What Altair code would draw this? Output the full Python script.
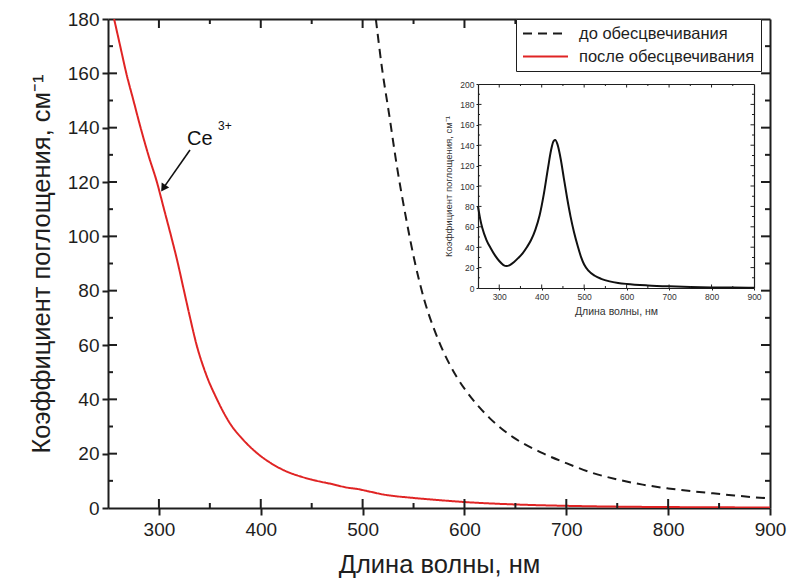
import altair as alt
import pandas as pd

# Absorption before bleaching (dashed curve)
wl_before = [513, 519, 526, 534, 542, 551, 561, 570, 580, 592, 608, 625, 648, 675,
             700, 725, 750, 775, 800, 825, 844, 865, 883, 900]
k_before = [180, 162, 145, 125, 108, 91, 76, 66, 57, 48.5, 40, 33, 26, 20.5,
            16.5, 13, 10.5, 8.6, 7.2, 6.1, 5.4, 4.6, 4.0, 3.5]

# Absorption after bleaching (red curve)
wl_after = [256, 262, 268, 275, 282, 290, 298, 305, 312, 318, 324, 330, 337, 346,
            357, 370, 383, 397, 410, 425, 440, 455, 470, 485, 495, 505, 520, 550,
            575, 600, 650, 700, 750, 800, 850, 900]
k_after = [180, 170, 160, 150, 140, 129.5, 120, 110, 100, 91, 81, 71, 60, 49.5,
           40, 31, 25, 20, 16.5, 13.5, 11.5, 10, 8.8, 7.5, 7.0, 6.2, 5.0, 3.7,
           2.9, 2.2, 1.3, 0.8, 0.5, 0.35, 0.25, 0.2]

# Difference spectrum shown in the inset
wl_inset = [250, 255, 260, 270, 280, 290, 300, 310, 317, 325, 335, 345, 355, 365,
            375, 385, 395, 405, 415, 422, 428, 432, 437, 445, 452, 460, 468, 476,
            485, 493, 500, 510, 525, 540, 560, 580, 600, 650, 700, 750, 800, 850, 900]
k_inset = [80, 68, 59, 47, 39, 32, 26.5, 22.5, 21.5, 22.5, 25.5, 29.5, 34, 40,
           47, 57, 71, 92, 118, 135, 144, 145, 141, 126, 108, 88, 70, 55,
           41, 30, 23, 17, 12, 9, 6.5, 5, 4, 2.5, 1.6, 1.0, 0.6, 0.4, 0.3]

series_names = ["до обесцвечивания", "после обесцвечивания"]

main_x_labels = [300, 400, 500, 600, 700, 800, 900]
main_x_major = [300, 400, 500, 600, 700, 800]
main_x_minor = [350, 450, 550, 650, 750, 850]
main_y_labels = [0, 20, 40, 60, 80, 100, 120, 140, 160, 180]
main_y_major = [20, 40, 60, 80, 100, 120, 140, 160]
main_y_minor = [10, 30, 50, 70, 90, 110, 130, 150, 170]
inset_x_labels = [300, 400, 500, 600, 700, 800, 900]
inset_x_major = [300, 400, 500, 600, 700, 800]
inset_x_minor = [350, 450, 550, 650, 750, 850]
inset_y_labels = [0, 20, 40, 60, 80, 100, 120, 140, 160, 180, 200]
inset_y_major = [20, 40, 60, 80, 100, 120, 140, 160, 180]
inset_y_minor = [10, 30, 50, 70, 90, 110, 130, 150, 170, 190]

# Ce3+ annotation: label anchors and arrow (wavelength, coefficient)
ce_label_pos = [327.6, 133.6]
ce_sup_pos = [358.0, 139.0]
arrow_wl = [330.5, 305.0]
arrow_k = [131.8, 118.1]

FONT = "Liberation Sans"
INK = "#1e1e1e"
W, H = 662, 489
# inset frame edges inside the main plot area (pixels)
IX0, IX1, IY0, IY1 = 370, 646, 269, 65

main_df = pd.concat([
    pd.DataFrame({"wl": wl_before, "k": k_before, "series": series_names[0]}),
    pd.DataFrame({"wl": wl_after, "k": k_after, "series": series_names[1]}),
])
inset_df = pd.DataFrame({"wl": wl_inset, "k": k_inset})


def sx():
    return alt.Scale(domain=[250, 900], nice=False, zero=False)


def sy():
    return alt.Scale(domain=[0, 180], nice=False, zero=False)


def isx():
    return alt.Scale(domain=[250, 900], range=[IX0, IX1], nice=False, zero=False)


def isy():
    return alt.Scale(domain=[0, 200], range=[IY0, IY1], nice=False, zero=False)


def frame_axis(orient, offset, width):
    return alt.Axis(orient=orient, offset=offset, labels=False, ticks=False,
                    title=None, grid=False, domain=True, domainWidth=width,
                    domainColor=INK)


def frame_layer(df, xs, ys, x_axis, y_axis):
    """Invisible layer contributing only the top and right frame lines."""
    return alt.Chart(df).mark_point(opacity=0).encode(
        x=alt.X("wl:Q", scale=xs, axis=x_axis),
        y=alt.Y("k:Q", scale=ys, axis=y_axis),
    )


def x_ticks(values, edge, xs, ys, length, width, shift):
    """Vertical tick marks at the given wavelengths along the edge y = edge."""
    df = pd.DataFrame({"wl": values, "k": [edge] * len(values)})
    return alt.Chart(df).mark_tick(
        orient="vertical", color=INK, thickness=width, size=length,
        yOffset=shift, opacity=1).encode(
        x=alt.X("wl:Q", scale=xs, axis=None),
        y=alt.Y("k:Q", scale=ys, axis=None))


def y_ticks(values, edge, xs, ys, length, width, shift):
    """Horizontal tick marks at the given coefficients along the edge x = edge."""
    df = pd.DataFrame({"wl": [edge] * len(values), "k": values})
    return alt.Chart(df).mark_tick(
        orient="horizontal", color=INK, thickness=width, size=length,
        xOffset=shift, opacity=1).encode(
        x=alt.X("wl:Q", scale=xs, axis=None),
        y=alt.Y("k:Q", scale=ys, axis=None))


# Main curves with labelled bottom and left axes
lines = alt.Chart(main_df).mark_line(clip=True, strokeWidth=2, interpolate="monotone").encode(
    x=alt.X("wl:Q", scale=sx(), axis=alt.Axis(
        orient="bottom", values=main_x_labels, ticks=True, tickSize=7,
        tickWidth=2, tickColor=INK,
        domain=True, domainWidth=2, domainColor=INK, labelFontSize=19,
        labelPadding=5, labelFlush=False, labelOverlap=False,
        title="Длина волны, нм", titleFontSize=25.5, titlePadding=13, grid=False)),
    y=alt.Y("k:Q", scale=sy(), axis=alt.Axis(
        orient="left", values=main_y_labels, ticks=True, tickSize=6,
        tickWidth=2, tickColor=INK,
        domain=True, domainWidth=2, domainColor=INK, labelFontSize=19,
        labelPadding=3, labelFlush=False, labelOverlap=False,
        title="Коэффициент поглощения, см⁻¹", titleFontSize=25.5,
        titlePadding=13, grid=False)),
    color=alt.Color("series:N", scale=alt.Scale(domain=series_names,
                                                  range=["#1a1a1a", "#e02424"]),
                    legend=alt.Legend(title=None)),
    strokeDash=alt.StrokeDash("series:N", scale=alt.Scale(domain=series_names,
                                                           range=[[9, 6], [1, 0]]),
                              legend=alt.Legend(title=None)),
)

# Top and right edges of the main frame, inward ticks on all four sides
main_guides = [
    frame_layer(main_df, sx(), sy(), frame_axis("bottom", -H, 2), frame_axis("left", -W, 2)),
    x_ticks(main_x_major, 0, sx(), sy(), 9, 2, -4.5),
    x_ticks(main_x_minor, 0, sx(), sy(), 5, 2, -2.5),
    x_ticks(main_x_major, 180, sx(), sy(), 9, 2, 4.5),
    x_ticks(main_x_minor, 180, sx(), sy(), 5, 2, 2.5),
    y_ticks(main_y_major, 250, sx(), sy(), 9, 2, 4.5),
    y_ticks(main_y_minor, 250, sx(), sy(), 5, 2, 2.5),
    y_ticks(main_y_major, 900, sx(), sy(), 9, 2, -4.5),
    y_ticks(main_y_minor, 900, sx(), sy(), 5, 2, -2.5),
]

# Inset spectrum
inset_line = alt.Chart(inset_df).mark_line(strokeWidth=2, color="#111", interpolate="monotone").encode(
    x=alt.X("wl:Q", scale=isx(), axis=alt.Axis(
        orient="bottom", offset=IY0 - H, values=inset_x_labels, ticks=True,
        tickSize=2, tickWidth=1, tickColor=INK, domain=True, domainWidth=1.2,
        domainColor=INK, labelFontSize=8.5, labelPadding=2, labelFlush=False,
        labelOverlap=False, labelColor="#333", title="Длина волны, нм",
        titleFontSize=10.5, titlePadding=6, titleColor="#333", grid=False)),
    y=alt.Y("k:Q", scale=isy(), axis=alt.Axis(
        orient="left", offset=-IX0, values=inset_y_labels, ticks=True,
        tickSize=2, tickWidth=1, tickColor=INK, domain=True, domainWidth=1.2,
        domainColor=INK, labelFontSize=8.5, labelPadding=2, labelFlush=False,
        labelOverlap=False, labelColor="#333",
        title="Коэффициент поглощения, см⁻¹",
        titleFontSize=9.5, titlePadding=6, titleColor="#333", grid=False)),
)

inset_guides = [
    frame_layer(inset_df, isx(), isy(), frame_axis("bottom", IY1 - H, 1.2),
                frame_axis("left", -IX1, 1.2)),
    x_ticks(inset_x_major, 0, isx(), isy(), 3.5, 1, -1.75),
    x_ticks(inset_x_minor, 0, isx(), isy(), 2, 1, -1),
    x_ticks(inset_x_major, 200, isx(), isy(), 3.5, 1, 1.75),
    x_ticks(inset_x_minor, 200, isx(), isy(), 2, 1, 1),
    y_ticks(inset_y_major, 250, isx(), isy(), 3.5, 1, 1.75),
    y_ticks(inset_y_minor, 250, isx(), isy(), 2, 1, 1),
    y_ticks(inset_y_major, 900, isx(), isy(), 3.5, 1, -1.75),
    y_ticks(inset_y_minor, 900, isx(), isy(), 2, 1, -1),
]

# Ce3+ label with arrow
ce_df = pd.DataFrame({"wl": [ce_label_pos[0]], "k": [ce_label_pos[1]], "t": ["Ce"]})
sup_df = pd.DataFrame({"wl": [ce_sup_pos[0]], "k": [ce_sup_pos[1]], "t": ["3+"]})
arrow_df = pd.DataFrame({"wl": arrow_wl, "k": arrow_k})
head_df = pd.DataFrame({"wl": [arrow_wl[1]], "k": [arrow_k[1]]})

ce_text = alt.Chart(ce_df).mark_text(align="left", baseline="alphabetic", fontSize=20,
                                     font=FONT, color="#111").encode(
    x=alt.X("wl:Q", scale=sx(), axis=None), y=alt.Y("k:Q", scale=sy(), axis=None), text="t:N")
sup_text = alt.Chart(sup_df).mark_text(align="left", baseline="alphabetic", fontSize=12,
                                       font=FONT, color="#111").encode(
    x=alt.X("wl:Q", scale=sx(), axis=None), y=alt.Y("k:Q", scale=sy(), axis=None), text="t:N")
arrow_shaft = alt.Chart(arrow_df).mark_line(color="#111", strokeWidth=1.6).encode(
    x=alt.X("wl:Q", scale=sx(), axis=None), y=alt.Y("k:Q", scale=sy(), axis=None))
arrow_head = alt.Chart(head_df).mark_point(shape="triangle", filled=True, size=80,
                                           angle=213, color="#111", opacity=1).encode(
    x=alt.X("wl:Q", scale=sx(), axis=None), y=alt.Y("k:Q", scale=sy(), axis=None))

chart = alt.layer(
    lines, *main_guides, inset_line, *inset_guides,
    ce_text, sup_text, arrow_shaft, arrow_head,
).resolve_scale(x="independent", y="independent").resolve_axis(
    x="independent", y="independent"
).properties(
    width=W, height=H,
    padding={"left": 108, "top": 19, "right": 19, "bottom": 75},
    autosize=alt.AutoSizeParams(type="none"),
    background="white",
).configure_view(stroke=None).configure_axis(
    labelFont=FONT, titleFont=FONT, labelColor=INK, titleColor=INK,
    titleFontWeight="normal",
).configure_legend(
    orient="none", legendX=408, legendY=0, strokeColor=INK, strokeWidth=1,
    fillColor="white", padding=6, labelFont=FONT, labelFontSize=16.5,
    labelColor=INK, symbolType="stroke", symbolSize=2025, symbolStrokeWidth=2,
    rowPadding=6, labelOffset=10, labelLimit=300, cornerRadius=0, clipHeight=17,
)

chart.save("out.html", embed_options={"renderer": "svg", "actions": False})
